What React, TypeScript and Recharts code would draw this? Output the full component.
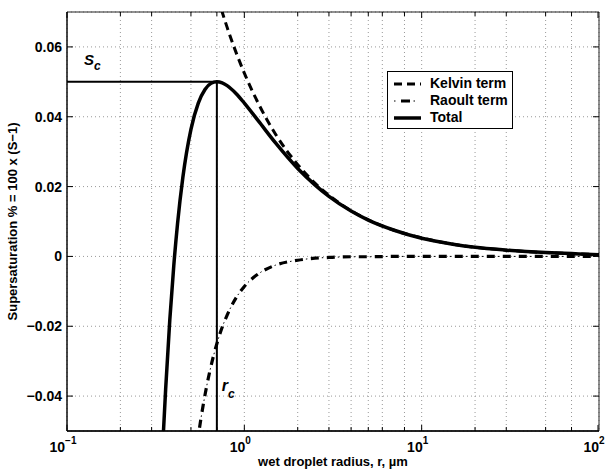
import {
  LineChart,
  Line,
  XAxis,
  YAxis,
  CartesianGrid,
  ReferenceLine,
  ReferenceArea,
  Legend,
} from 'recharts';

// wet droplet radius (um) and the three supersaturation curves (%)
const radius = [0.34, 0.35, 0.36, 0.38, 0.4, 0.42, 0.45, 0.5, 0.55, 0.6, 0.65, 0.7, 0.75, 0.8, 0.9, 1, 1.2, 1.5, 2, 2.5, 3, 4, 5, 7, 10, 15, 20, 30, 50, 70, 100];
const kelvin = [0.1544, 0.15, 0.1458, 0.1382, 0.1313, 0.125, 0.1167, 0.105, 0.0955, 0.0875, 0.0808, 0.075, 0.07, 0.0656, 0.0583, 0.0525, 0.0438, 0.035, 0.0263, 0.021, 0.0175, 0.0131, 0.0105, 0.0075, 0.0053, 0.0035, 0.0026, 0.0018, 0.0011, 0.0008, 0.0005];
const raoult = [-0.2182, -0.2, -0.1838, -0.1563, -0.134, -0.1157, -0.0941, -0.0686, -0.0515, -0.0397, -0.0312, -0.025, -0.0203, -0.0168, -0.0118, -0.0086, -0.005, -0.0025, -0.0011, -0.0005, -0.0003, -0.0001, -0.0001, 0, 0, 0, 0, 0, 0, 0, 0];
const total = [-0.0638, -0.05, -0.038, -0.0181, -0.0027, 0.0093, 0.0226, 0.0364, 0.0439, 0.0478, 0.0496, 0.05, 0.0497, 0.0489, 0.0466, 0.0439, 0.0388, 0.0325, 0.0252, 0.0205, 0.0172, 0.013, 0.0104, 0.0075, 0.0052, 0.0035, 0.0026, 0.0018, 0.0011, 0.0008, 0.0005];

// critical radius and critical supersaturation
const rc = 0.7;
const Sc = 0.05;

const xTicks = [0.1, 0.2, 0.3, 0.4, 0.5, 0.6, 0.7, 0.8, 0.9, 1, 2, 3, 4, 5, 6, 7, 8, 9, 10, 20, 30, 40, 50, 60, 70, 80, 90, 100];
const decadeLabels: Record<number, string> = { 0.1: '-1', 1: '0', 10: '1', 100: '2' };
const yTicks = [-0.04, -0.02, 0, 0.02, 0.04, 0.06];
const legendNames = ['Kelvin term', 'Raoult term', 'Total'];

const data = radius.map((r, i) => ({ r, kelvin: kelvin[i], raoult: raoult[i], total: total[i] }));

const FONT = '"Liberation Sans", Arial, sans-serif';
const PLOT_W = 532;
const PLOT_H = 419;

function XTick({ x, y, payload }: any) {
  const v = payload.value;
  const exp = decadeLabels[v];
  const len = exp !== undefined ? 6 : 4;
  return (
    <g>
      <line x1={x} y1={y} x2={x} y2={y - len} stroke="#000" />
      <line x1={x} y1={y - PLOT_H} x2={x} y2={y - PLOT_H + len} stroke="#000" />
      {exp !== undefined && (
        <text x={x - 4} y={y + 21} textAnchor="middle" fontFamily={FONT} fontWeight="bold" fontSize={14} fill="#000">
          <tspan>10</tspan>
          <tspan dy={-8} fontSize={10}>{exp === '-1' ? '\u22121' : exp}</tspan>
        </text>
      )}
    </g>
  );
}

function YTick({ x, y, payload }: any) {
  const v = payload.value;
  const label = v === 0 ? '0' : v < 0 ? '\u2212' + Math.abs(v).toFixed(2) : v.toFixed(2);
  return (
    <g>
      <line x1={x} y1={y} x2={x + 6} y2={y} stroke="#000" />
      <line x1={x + PLOT_W - 6} y1={y} x2={x + PLOT_W} y2={y} stroke="#000" />
      <text x={x - 5} y={y} dy={5} textAnchor="end" fontFamily={FONT} fontWeight="bold" fontSize={14} fill="#000">
        {label}
      </text>
    </g>
  );
}

function ScLabel({ viewBox }: any) {
  return (
    <text x={viewBox.x + 17} y={viewBox.y - 17} fontFamily={FONT} fontWeight="bold" fontStyle="italic" fontSize={15} fill="#000">
      <tspan>S</tspan>
      <tspan dy={5} fontSize={12}>c</tspan>
    </text>
  );
}

function RcLabel({ viewBox }: any) {
  return (
    <text x={viewBox.x + 5} y={391} fontFamily={FONT} fontWeight="bold" fontStyle="italic" fontSize={16} fill="#000">
      <tspan>r</tspan>
      <tspan dy={7} fontSize={12}>c</tspan>
    </text>
  );
}

function LegendBox() {
  const samples = [
    <line x1={2} y1={6} x2={29} y2={6} stroke="#000" strokeWidth={3} strokeDasharray="8 5" />,
    <g>
      <line x1={2} y1={6} x2={29} y2={6} stroke="#000" strokeWidth={3} strokeDasharray="0 7 9 11" />
      <line x1={2} y1={6} x2={29} y2={6} stroke="#000" strokeWidth={1} strokeDasharray="1.5 18 1.5 20" />
    </g>,
    <line x1={2} y1={6} x2={29} y2={6} stroke="#000" strokeWidth={3.5} />,
  ];
  return (
    <div
      style={{
        border: '1px solid #000',
        background: '#fff',
        width: 124,
        padding: '3px 0 2px 0',
        fontFamily: FONT,
        fontWeight: 'bold',
        fontSize: 14,
        lineHeight: '17px',
        color: '#000',
      }}
    >
      {legendNames.map((name, i) => (
        <div key={name} style={{ display: 'flex', alignItems: 'center' }}>
          <svg width={38} height={12} style={{ marginLeft: 4 }}>
            {samples[i]}
          </svg>
          <span>{name}</span>
        </div>
      ))}
    </div>
  );
}

export default function App() {
  return (
    <div style={{ position: 'absolute', left: 0, top: 0, width: 610, height: 469, background: '#fff' }}>
      <LineChart width={610} height={469} data={data} margin={{ top: 12, right: 11, left: 0, bottom: 0 }}>
        <CartesianGrid stroke="#999" strokeDasharray="1 3" />
        <XAxis
          dataKey="r"
          type="number"
          scale="log"
          domain={[0.1, 100]}
          ticks={xTicks}
          allowDataOverflow
          height={38}
          tickSize={0}
          tickMargin={0}
          tick={<XTick />}
          stroke="#000"
          axisLine={{ stroke: '#000', strokeWidth: 1.5 }}
          label={{
            value: 'wet droplet radius, r, \u00b5m',
            position: 'insideBottom',
            offset: 3,
            fontFamily: FONT,
            fontWeight: 'bold',
            fontSize: 13,
            fill: '#000',
          }}
        />
        <YAxis
          type="number"
          domain={[-0.05, 0.07]}
          ticks={yTicks}
          allowDataOverflow
          width={67}
          tickSize={0}
          tickMargin={0}
          tick={<YTick />}
          axisLine={{ stroke: '#000' }}
          label={{
            value: 'Supersaturation % = 100 x (S\u22121)',
            angle: -90,
            position: 'insideLeft',
            offset: 12,
            style: { textAnchor: 'middle' },
            fontFamily: FONT,
            fontWeight: 'bold',
            fontSize: 13,
            fill: '#000',
          }}
        />
        <ReferenceArea x1={0.1} x2={100} y1={-0.05} y2={0.07} fill="none" stroke="#222" strokeWidth={1} />
        <Line dataKey="kelvin" type="monotone" stroke="#000" strokeWidth={3} strokeDasharray="8 5" dot={false} isAnimationActive={false} />
        <Line dataKey="raoult" type="monotone" stroke="#000" strokeWidth={3.2} strokeDasharray="8 8" dot={false} isAnimationActive={false} />
        <Line dataKey="raoult" type="monotone" stroke="#000" strokeWidth={1} strokeDasharray="0 11 1.5 3.5" dot={false} legendType="none" isAnimationActive={false} />
        <Line dataKey="total" type="monotone" stroke="#000" strokeWidth={3.5} dot={false} isAnimationActive={false} />
        <ReferenceLine
          segment={[{ x: 0.1, y: Sc }, { x: rc, y: Sc }]}
          stroke="#000"
          strokeWidth={2}
          label={<ScLabel />}
        />
        <ReferenceLine
          segment={[{ x: rc, y: -0.05 }, { x: rc, y: Sc }]}
          stroke="#000"
          strokeWidth={2}
          label={<RcLabel />}
        />
        <Legend
          layout="vertical"
          align="center"
          verticalAlign="middle"
          content={<LegendBox />}
          wrapperStyle={{ position: 'absolute', left: 387, top: 71, width: 'auto' }}
        />
      </LineChart>
    </div>
  );
}
